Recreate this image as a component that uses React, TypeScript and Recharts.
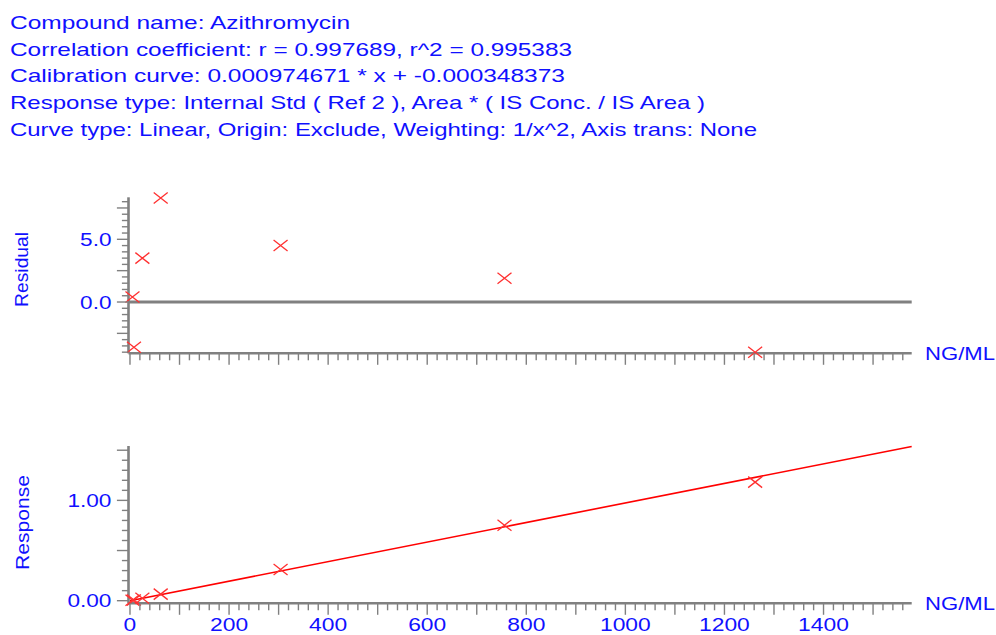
import React from 'react';
import { ComposedChart, Scatter, Line, XAxis, YAxis, ReferenceLine } from 'recharts';

// ---- data ----
const headerLines = [
  'Compound name: Azithromycin',
  'Correlation coefficient: r = 0.997689, r^2 = 0.995383',
  'Calibration curve: 0.000974671 * x + -0.000348373',
  'Response type: Internal Std ( Ref 2 ), Area * ( IS Conc. / IS Area )',
  'Curve type: Linear, Origin: Exclude, Weighting: 1/x^2, Axis trans: None',
];
const headerLengths = [340, 562, 555, 695, 747];

const concentrations = [5, 8, 25, 62, 304, 756, 1262];
const residuals = [0.4, -3.6, 3.5, 8.3, 4.5, 1.9, -4.0];
const responses = [0.005, 0.0075, 0.0252, 0.0655, 0.31, 0.752, 1.182];

const fitLineX = [0, 1578];
const fitLineY = [-0.000348, 1.5377];

const xTickLabels = [0, 200, 400, 600, 800, 1000, 1200, 1400];
const residualTickLabels = [0, 5];
const responseTickLabels = [0, 1];

const xUnit = 'NG/ML';
const residualTitle = 'Residual';
const responseTitle = 'Response';

// ---- derived tables ----
const residualData = concentrations.map((x, i) => ({ x, y: residuals[i] }));
const responseData = concentrations.map((x, i) => ({ x, y: responses[i] }));
const fitData = fitLineX.map((x, i) => ({ x, y: fitLineY[i] }));

const xTicks = Array.from({ length: 79 }, (_, i) => i * 20);
const residualTicks = Array.from({ length: 25 }, (_, i) => -4 + i * 0.5);
const responseTicks = Array.from({ length: 16 }, (_, i) => Math.round(i * 10) / 100);

// ---- styles ----
const BLUE = '#1010ff';
const GRAY = '#808080';
const RED = '#ff0000';
const CROSS = '#ff3030';
const FONT = '"Liberation Sans", Arial, sans-serif';
const FS = 18.6;

const labelLen = (s: string) =>
  s.split('').reduce((a, c) => a + (c === '.' ? 6 : 12.7), 0);

const Cross = (props: any) => {
  const { cx, cy } = props;
  if (cx == null || cy == null) return null;
  return (
    <path
      d={`M${cx - 7},${cy - 5.5}L${cx + 7},${cy + 5.5}M${cx - 7},${cy + 5.5}L${cx + 7},${cy - 5.5}`}
      stroke={CROSS}
      strokeWidth={1.3}
      fill="none"
    />
  );
};

const makeXTick = (showLabels: boolean) => (props: any) => {
  const { x, y, payload } = props;
  const v = payload.value as number;
  const major = Math.round(v) % 100 === 0;
  const hasLabel = showLabels && xTickLabels.includes(v);
  const s = String(v);
  return (
    <g>
      <line x1={x} x2={x} y1={y} y2={y + (major ? 11.5 : 7)} stroke={GRAY} strokeWidth={1.4} />
      {hasLabel && (
        <text
          x={x}
          y={y + 27.5}
          textAnchor="middle"
          fill={BLUE}
          fontFamily={FONT}
          fontSize={FS}
          textLength={labelLen(s)}
          lengthAdjust="spacingAndGlyphs"
        >
          {s}
        </text>
      )}
    </g>
  );
};

const makeYTick = (labels: number[], majorStep: number, digits: number) => (props: any) => {
  const { x, y, payload } = props;
  const v = payload.value as number;
  const r = v / majorStep;
  const major = Math.abs(r - Math.round(r)) < 1e-6;
  const hasLabel = labels.some((l) => Math.abs(l - v) < 1e-6);
  const s = v.toFixed(digits);
  return (
    <g>
      <line x1={x} x2={x - (major ? 11.6 : 6.6)} y1={y} y2={y} stroke={GRAY} strokeWidth={1.4} />
      {hasLabel && (
        <text
          x={x - 17}
          y={y + 6.6}
          textAnchor="end"
          fill={BLUE}
          fontFamily={FONT}
          fontSize={FS}
          textLength={labelLen(s)}
          lengthAdjust="spacingAndGlyphs"
        >
          {s}
        </text>
      )}
    </g>
  );
};

const W = 996;
const H = 635;
const X_DOMAIN: [number, number] = [-3, 1578];

export default function App() {
  const layer: React.CSSProperties = { position: 'absolute', left: 0, top: 0 };
  return (
    <div style={{ position: 'absolute', left: 0, top: 0, width: W, height: H, background: '#fff', overflow: 'hidden' }}>
      <div style={layer}>
        <ComposedChart
          width={W}
          height={H}
          margin={{ top: 197.3, right: 84.3, bottom: 251.7, left: 0 }}
        >
          <XAxis
            type="number"
            dataKey="x"
            domain={X_DOMAIN}
            ticks={xTicks}
            interval={0}
            height={30}
            tickSize={0}
            tickMargin={0}
            tickLine={false}
            axisLine={{ stroke: GRAY, strokeWidth: 2.6 }}
            tick={makeXTick(false)}
          />
          <YAxis
            type="number"
            dataKey="y"
            domain={[-4.09, 8.35]}
            ticks={residualTicks}
            interval={0}
            width={128.5}
            tickSize={0}
            tickMargin={0}
            tickLine={false}
            axisLine={{ stroke: GRAY, strokeWidth: 2.6 }}
            tick={makeYTick(residualTickLabels, 2.5, 1)}
          />
          <ReferenceLine y={0} stroke={GRAY} strokeWidth={2.8} />
          <Scatter data={residualData} dataKey="y" shape={<Cross />} isAnimationActive={false} />
        </ComposedChart>
      </div>
      <div style={layer}>
        <ComposedChart
          width={W}
          height={H}
          margin={{ top: 446, right: 84.3, bottom: 0, left: 0 }}
        >
          <XAxis
            type="number"
            dataKey="x"
            domain={X_DOMAIN}
            ticks={xTicks}
            interval={0}
            height={31.7}
            tickSize={0}
            tickMargin={0}
            tickLine={false}
            axisLine={{ stroke: GRAY, strokeWidth: 2.6 }}
            tick={makeXTick(true)}
          />
          <YAxis
            type="number"
            dataKey="y"
            domain={[-0.026, 1.542]}
            ticks={responseTicks}
            interval={0}
            width={128.5}
            tickSize={0}
            tickMargin={0}
            tickLine={false}
            axisLine={{ stroke: GRAY, strokeWidth: 2.6 }}
            tick={makeYTick(responseTickLabels, 0.5, 2)}
          />
          <Line
            data={fitData}
            dataKey="y"
            type="linear"
            stroke={RED}
            strokeWidth={1.6}
            dot={false}
            activeDot={false}
            isAnimationActive={false}
          />
          <Scatter data={responseData} dataKey="y" shape={<Cross />} isAnimationActive={false} />
        </ComposedChart>
      </div>
      <svg style={{ ...layer, pointerEvents: 'none' }} width={W} height={H}>
        {headerLines.map((t, i) => (
          <text
            key={i}
            x={10}
            y={29 + i * 26.7}
            fill={BLUE}
            fontFamily={FONT}
            fontSize={FS}
            textLength={headerLengths[i]}
            lengthAdjust="spacingAndGlyphs"
          >
            {t}
          </text>
        ))}
        <text
          x={28.5}
          y={269.4}
          transform="rotate(-90 28.5 269.4)"
          textAnchor="middle"
          fill={BLUE}
          fontFamily={FONT}
          fontSize={FS}
          textLength={75}
          lengthAdjust="spacingAndGlyphs"
        >
          {residualTitle}
        </text>
        <text
          x={28.5}
          y={522.5}
          transform="rotate(-90 28.5 522.5)"
          textAnchor="middle"
          fill={BLUE}
          fontFamily={FONT}
          fontSize={FS}
          textLength={95}
          lengthAdjust="spacingAndGlyphs"
        >
          {responseTitle}
        </text>
        <text x={925} y={360} fill={BLUE} fontFamily={FONT} fontSize={FS} textLength={70} lengthAdjust="spacingAndGlyphs">
          {xUnit}
        </text>
        <text x={925} y={610} fill={BLUE} fontFamily={FONT} fontSize={FS} textLength={70} lengthAdjust="spacingAndGlyphs">
          {xUnit}
        </text>
      </svg>
    </div>
  );
}
